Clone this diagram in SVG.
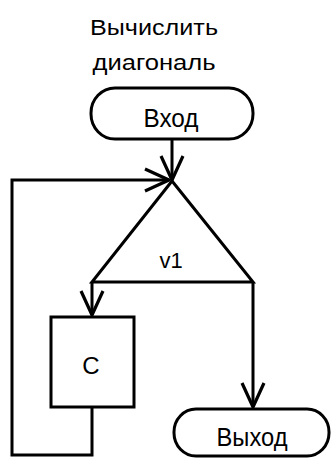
<svg xmlns="http://www.w3.org/2000/svg" width="332" height="459" viewBox="0 0 332 459">
  <style>
    .shape { fill: #fff; stroke: #000; stroke-width: 3; }
    .wire { fill: none; stroke: #000; stroke-width: 3; }
    .lbl { font-family: "Liberation Sans", Arial, sans-serif; fill: #000; text-anchor: middle; }
  </style>
  <defs>
    <marker id="arrow" viewBox="-28 -14 32 28" refX="0" refY="0" markerWidth="32" markerHeight="28" markerUnits="userSpaceOnUse" orient="auto">
      <path d="M-24,-11 L0,0 L-24,11" fill="none" stroke="#000" stroke-width="3.2" stroke-linejoin="round"/>
    </marker>
  </defs>

  <rect width="332" height="459" fill="#fff"/>

  <!-- title -->
  <g id="title">
    <text class="lbl" x="154" y="35" font-size="22" textLength="128" lengthAdjust="spacingAndGlyphs">Вычислить</text>
    <text class="lbl" x="154" y="70" font-size="22" textLength="123" lengthAdjust="spacingAndGlyphs">диагональ</text>
  </g>

  <!-- connectors -->
  <g id="connectors">
    <path class="wire" d="M172,139 V180" marker-end="url(#arrow)"/>
    <path class="wire" d="M92,407 V455 H12 V180 H169" marker-end="url(#arrow)"/>
    <path class="wire" d="M92,282 V315" marker-end="url(#arrow)"/>
    <path class="wire" d="M253,282 V407" marker-end="url(#arrow)"/>
  </g>

  <!-- start terminal -->
  <g id="start">
    <rect class="shape" x="91" y="88" width="162" height="51" rx="24" ry="25"/>
    <text class="lbl" x="171" y="127" font-size="25" textLength="55" lengthAdjust="spacingAndGlyphs">Вход</text>
  </g>

  <!-- loop condition -->
  <g id="loop">
    <polygon class="shape" points="172,181 92,282 253,282" stroke-linejoin="miter"/>
    <text class="lbl" x="171" y="268" font-size="22">v1</text>
  </g>

  <!-- loop body -->
  <g id="body">
    <rect class="shape" x="51" y="317" width="83" height="90"/>
    <text class="lbl" x="91" y="374" font-size="24">C</text>
  </g>

  <!-- end terminal -->
  <g id="end">
    <rect class="shape" x="174" y="409" width="155" height="47" rx="22" ry="23"/>
    <text class="lbl" x="252" y="446" font-size="25" textLength="71" lengthAdjust="spacingAndGlyphs">Выход</text>
  </g>
</svg>
